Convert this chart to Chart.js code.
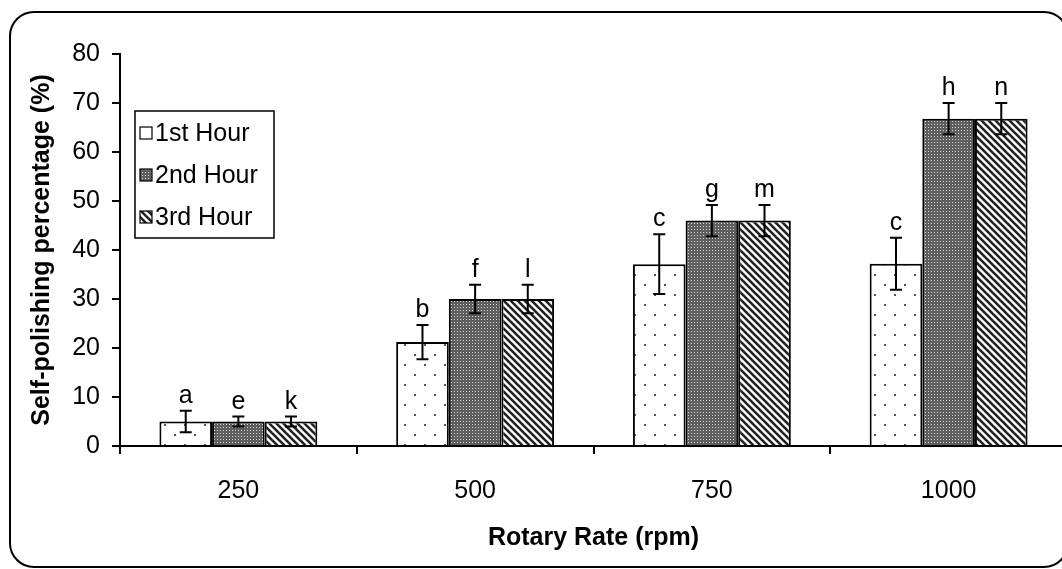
<!DOCTYPE html>
<html>
<head>
<meta charset="utf-8">
<script src="https://cdn.jsdelivr.net/npm/chart.js@4.4.1/dist/chart.umd.min.js"></script>
<style>
  html, body { margin: 0; padding: 0; background: #fff; overflow: hidden; }
  #wrap { width: 1075px; height: 569px; }
</style>
</head>
<body>
<div id="wrap"><canvas id="barChart" width="1075" height="569"></canvas></div>
<script>
const ctx = document.getElementById('barChart').getContext('2d');

// data
const rates = ['250', '500', '750', '1000'];
const seriesNames = ['1st Hour', '2nd Hour', '3rd Hour'];

const hour1 = [5.0, 21.2, 37.1, 37.2];
const hour2 = [5.0, 30.0, 46.0, 66.8];
const hour3 = [5.0, 30.0, 46.0, 66.8];

const err1 = [2.2, 3.5, 6.1, 5.3];
const err2 = [1.0, 2.9, 3.2, 3.2];
const err3 = [1.0, 2.9, 3.2, 3.2];

const letters1 = ['a', 'b', 'c', 'c'];
const letters2 = ['e', 'f', 'g', 'h'];
const letters3 = ['k', 'l', 'm', 'n'];

const yTicks = [0, 10, 20, 30, 40, 50, 60, 70, 80];

const FONT = "'Liberation Sans', Arial, sans-serif";

// fill patterns
function makePattern(size, draw) {
    const c = document.createElement('canvas');
    c.width = size; c.height = size;
    const g = c.getContext('2d');
    draw(g, size);
    return ctx.createPattern(c, 'repeat');
}

const dotsPattern = makePattern(20, (g, s) => {
    g.fillStyle = '#fff';
    g.fillRect(0, 0, s, s);
    g.fillStyle = '#555';
    g.fillRect(4, 4, 2, 2);
    g.fillRect(14, 14, 2, 2);
});

const densePattern = makePattern(3, (g, s) => {
    g.fillStyle = '#5e5e5e';
    g.fillRect(0, 0, s, s);
    g.fillStyle = '#d8d8d8';
    g.fillRect(1, 1, 1, 1);
});

const stripePattern = makePattern(7, (g, s) => {
    g.fillStyle = '#fff';
    g.fillRect(0, 0, s, s);
    g.strokeStyle = '#222';
    g.lineWidth = 2.6;
    for (let k = -1; k <= 1; k++) {
        g.beginPath();
        g.moveTo(-1, k * s - 1);
        g.lineTo(s + 1, k * s + s + 1);
        g.stroke();
    }
});

const data = {
    labels: rates,
    datasets: [
        { label: seriesNames[0], data: hour1, errors: err1, letters: letters1, backgroundColor: dotsPattern },
        { label: seriesNames[1], data: hour2, errors: err2, letters: letters2, backgroundColor: densePattern },
        { label: seriesNames[2], data: hour3, errors: err3, letters: letters3, backgroundColor: stripePattern },
    ].map(d => Object.assign(d, {
        borderColor: '#000',
        borderWidth: 2,
        borderSkipped: 'bottom',
        barPercentage: 1,
        categoryPercentage: 0.667,
    })),
};

// error bars + significance letters
const errorBars = {
    id: 'errorBars',
    afterDatasetsDraw(chart) {
        const c = chart.ctx;
        const y = chart.scales.y;
        c.save();
        c.strokeStyle = '#000';
        c.lineWidth = 2;
        c.fillStyle = '#000';
        c.font = '25px ' + FONT;
        c.textAlign = 'center';
        c.textBaseline = 'alphabetic';
        chart.data.datasets.forEach((ds, i) => {
            chart.getDatasetMeta(i).data.forEach((bar, j) => {
                const v = ds.data[j], e = ds.errors[j];
                const top = y.getPixelForValue(v + e);
                const bot = y.getPixelForValue(v - e);
                c.beginPath();
                c.moveTo(bar.x, top); c.lineTo(bar.x, bot);
                c.moveTo(bar.x - 6, top); c.lineTo(bar.x + 6, top);
                c.moveTo(bar.x - 6, bot); c.lineTo(bar.x + 6, bot);
                c.stroke();
                c.fillText(ds.letters[j], bar.x, top - 8);
            });
        });
        c.restore();
    }
};

// boxed legend in the top-left of the plot
const boxLegend = {
    id: 'boxLegend',
    afterDraw(chart) {
        const c = chart.ctx;
        const a = chart.chartArea;
        const x0 = a.left + 15, y0 = a.top + 57;
        c.save();
        c.strokeStyle = '#000';
        c.lineWidth = 1.5;
        c.strokeRect(x0, y0, 139, 127);
        c.font = '25px ' + FONT;
        c.textBaseline = 'middle';
        c.textAlign = 'left';
        chart.data.datasets.forEach((ds, i) => {
            const cy = y0 + 22 + i * 42;
            c.fillStyle = ds.backgroundColor;
            c.fillRect(x0 + 5, cy - 6, 12, 12);
            c.lineWidth = 1.2;
            c.strokeRect(x0 + 5, cy - 6, 12, 12);
            c.fillStyle = '#000';
            c.fillText(ds.label, x0 + 20, cy + 1);
        });
        c.restore();
    }
};

// rounded frame around the whole figure
const frame = {
    id: 'frame',
    beforeDraw(chart) {
        const c = chart.ctx;
        c.save();
        c.fillStyle = '#fff';
        c.fillRect(0, 0, chart.width, chart.height);
        c.strokeStyle = '#000';
        c.lineWidth = 2;
        c.beginPath();
        c.roundRect(10, 12, 1058, 555, 24);
        c.stroke();
        c.restore();
    }
};

const config = {
    type: 'bar',
    data: data,
    options: {
        responsive: false,
        animation: false,
        layout: { padding: { left: 0, right: 8, top: 54, bottom: 0 } },
        plugins: {
            legend: { display: false },
            tooltip: { enabled: false },
        },
        scales: {
            x: {
                grid: { display: true, drawOnChartArea: false, offset: true, color: '#000', lineWidth: 2, tickLength: 8 },
                border: { color: '#000', width: 2 },
                ticks: { color: '#000', font: { family: FONT, size: 25 }, padding: 22 },
                title: { display: true, text: 'Rotary Rate (rpm)', color: '#000', font: { family: FONT, size: 25, weight: 'bold' }, padding: { top: 0, bottom: 16 } },
                afterFit: s => { s.height = 123; },
            },
            y: {
                min: 0,
                max: 80,
                grid: { display: true, drawOnChartArea: false, color: '#000', lineWidth: 2, tickLength: 8 },
                border: { color: '#000', width: 2 },
                afterBuildTicks: s => { s.ticks = yTicks.map(v => ({ value: v })); },
                ticks: { color: '#000', font: { family: FONT, size: 25 }, padding: 12 },
                title: { display: true, text: 'Self-polishing percentage (%)', color: '#000', font: { family: FONT, size: 25, weight: 'bold' }, padding: { top: 27, bottom: 0 } },
                afterFit: s => { s.width = 120; },
            },
        },
    },
    plugins: [frame, errorBars, boxLegend],
};

const myChart = new Chart(ctx, config);
</script>
</body>
</html>
